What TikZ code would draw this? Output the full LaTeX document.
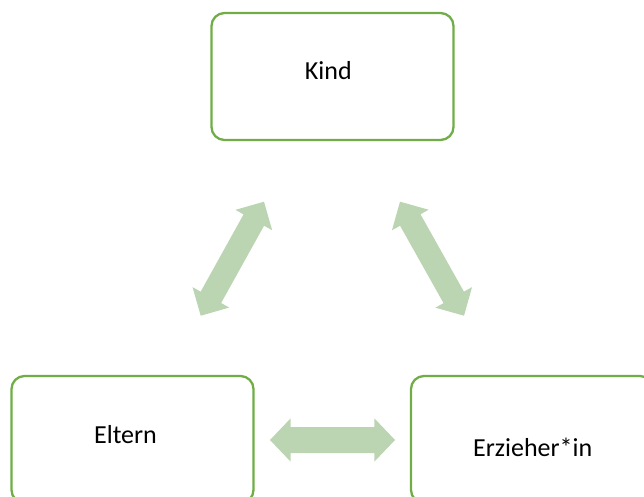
\documentclass[tikz,border=0pt]{standalone}
\usepackage{fontspec}
\setmainfont{Carlito}
\usetikzlibrary{calc}
\definecolor{boxgreen}{RGB}{112,173,71}
\definecolor{arrowgreen}{RGB}{187,212,177}
\tikzset{
  box/.style={draw=boxgreen, line width=2.3pt, rounded corners=13pt, minimum width=242pt, minimum height=127pt, inner sep=0pt},
  lbl/.style={inner sep=0pt, font=\fontsize{26}{31}\selectfont, text=black},
  arrowfill/.style={fill=arrowgreen}
}
% #1 tip A, #2 tip B, #3 head length, #4 head half width, #5 shaft half width
\newcommand\blockarrow[5]{%
  \coordinate (#1h) at ($(#1)!#3!(#2)$);
  \coordinate (#2h) at ($(#2)!#3!(#1)$);
  \fill[arrowfill] (#1) -- ($(#1h)!#4!90:(#2)$) -- ($(#1h)!#5!90:(#2)$)
    -- ($(#2h)!#5!-90:(#1)$) -- ($(#2h)!#4!-90:(#1)$) -- (#2)
    -- ($(#2h)!#4!90:(#1)$) -- ($(#2h)!#5!90:(#1)$)
    -- ($(#1h)!#5!-90:(#2)$) -- ($(#1h)!#4!-90:(#2)$) -- cycle;}
\begin{document}
\begin{tikzpicture}[x=1pt,y=-1pt]
\useasboundingbox (0,0) rectangle (644,497);
\clip (0,0) rectangle (644,497);
% boxes
\node[box] (kind) at (332.5,76.5) {};
\node[box] (eltern) at (132.5,439.5) {};
\node[box] (erz) at (532,439.5) {};
\node[lbl] (kindtext) at (328.3,70.8) {Kind};
\node[lbl] (elterntext) at (125.5,434.8) {Eltern};
\node[lbl] (erztext) at (532.7,447.2) {Erzieher*in};
% arrows
\coordinate (la) at (200.7,315.7);
\coordinate (lb) at (264,201.7);
\coordinate (ra) at (464,315.7);
\coordinate (rb) at (400,201.7);
\coordinate (ha) at (270,440);
\coordinate (hb) at (395,440);
\blockarrow{la}{lb}{21pt}{21pt}{11.7pt}
\blockarrow{ra}{rb}{21pt}{21pt}{11.7pt}
\blockarrow{ha}{hb}{20.7pt}{21.7pt}{13pt}
\end{tikzpicture}
\end{document}
